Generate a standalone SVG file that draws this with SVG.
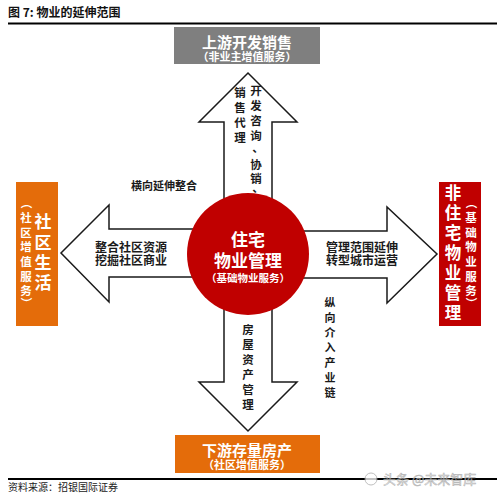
<svg xmlns="http://www.w3.org/2000/svg" width="500" height="497" viewBox="0 0 500 497">
<style>
text{font-family:"Noto Sans CJK SC","Noto Sans",sans-serif;}
.t{font-size:12px;fill:#1a1a1a;font-weight:bold;}
.w{fill:#fff;font-weight:bold;}
.arrow{fill:#fff;stroke:#1a1a1a;stroke-width:1.5;stroke-linejoin:miter;}
.rule{stroke:#000;stroke-width:2;}
</style>
<rect width="500" height="497" fill="#fff"/>
<text x="8" y="17" style="font-size:12px;font-weight:bold;fill:#111">图 7: 物业的延伸范围</text>
<line class="rule" x1="8" y1="23.5" x2="497" y2="23.5"/>

<g id="connectors">
<path class="arrow" d="M224,200 L224,122 L199,122 L248,73 L297,122 L272,122 L272,200 Z"/>
<path class="arrow" d="M224,300 L224,382 L199,382 L248,431 L297,382 L272,382 L272,300 Z"/>
<path class="arrow" d="M200,229 L109,229 L109,205 L61,253 L109,302 L109,277 L200,277 Z"/>
<path class="arrow" d="M300,231 L387,231 L387,207 L437,254 L387,303 L387,278 L300,278 Z"/>
</g>

<g id="up-labels" class="t" style="font-size:11.5px">
<text x="240" y="97" text-anchor="middle">销</text>
<text x="240" y="112" text-anchor="middle">售</text>
<text x="240" y="127" text-anchor="middle">代</text>
<text x="240" y="142" text-anchor="middle">理</text>
<text x="256" y="95" text-anchor="middle">开</text>
<text x="256" y="110" text-anchor="middle">发</text>
<text x="256" y="125" text-anchor="middle">咨</text>
<text x="256" y="140" text-anchor="middle">询</text>
<text x="258" y="152" text-anchor="middle">、</text>
<text x="256" y="169" text-anchor="middle">协</text>
<text x="256" y="183" text-anchor="middle">销</text>
<text x="258" y="192" text-anchor="middle">、</text>
</g>

<g id="center">
<circle cx="248" cy="254" r="61" fill="#c00000"/>
<text class="w" x="248" y="246" text-anchor="middle" style="font-size:17px">住宅</text>
<text class="w" x="248" y="267" text-anchor="middle" style="font-size:17px">物业管理</text>
<text class="w" x="248" y="282" text-anchor="middle" style="font-size:10.5px">（基础物业服务）</text>
</g>

<g id="top-box">
<rect x="174" y="27" width="146" height="37" fill="#7f7f7f"/>
<text class="w" x="247" y="48" text-anchor="middle" style="font-size:15px">上游开发销售</text>
<text class="w" x="247" y="61" text-anchor="middle" style="font-size:11px">（非业主增值服务）</text>
</g>

<g id="bottom-box">
<rect x="175" y="435" width="145" height="38" fill="#e46c0a"/>
<text class="w" x="247" y="456" text-anchor="middle" style="font-size:15px">下游存量房产</text>
<text class="w" x="247" y="469" text-anchor="middle" style="font-size:11px">（社区增值服务）</text>
</g>

<g id="left-box">
<rect x="16" y="182" width="42" height="144" fill="#e46c0a"/>
<g class="w" style="font-size:17px" text-anchor="middle">
<text x="43" y="228">社</text>
<text x="43" y="249">区</text>
<text x="43" y="269">生</text>
<text x="43" y="289">活</text>
</g>
<g class="w" style="font-size:11.5px" text-anchor="middle">
<text x="26" y="207" transform="rotate(90 26 203)">（</text>
<text x="26" y="222">社</text>
<text x="26" y="237">区</text>
<text x="26" y="251">增</text>
<text x="26" y="266">值</text>
<text x="26" y="281">服</text>
<text x="26" y="295">务</text>
<text x="26" y="307" transform="rotate(90 26 303)">）</text>
</g>
</g>

<g id="right-box">
<rect x="439" y="182" width="42" height="144" fill="#c00000"/>
<g class="w" style="font-size:16.5px" text-anchor="middle">
<text x="453" y="199">非</text>
<text x="453" y="219">住</text>
<text x="453" y="239">宅</text>
<text x="453" y="259">物</text>
<text x="453" y="279">业</text>
<text x="453" y="299">管</text>
<text x="453" y="319">理</text>
</g>
<g class="w" style="font-size:11.5px" text-anchor="middle">
<text x="471" y="207" transform="rotate(90 471 203)">（</text>
<text x="471" y="222">基</text>
<text x="471" y="237">础</text>
<text x="471" y="251">物</text>
<text x="471" y="266">业</text>
<text x="471" y="281">服</text>
<text x="471" y="295">务</text>
<text x="471" y="307" transform="rotate(90 471 303)">）</text>
</g>
</g>

<g id="labels" class="t">
<text x="164" y="190" text-anchor="middle" style="font-size:11px">横向延伸整合</text>
<text x="131" y="252" text-anchor="middle">整合社区资源</text>
<text x="131" y="265" text-anchor="middle">挖掘社区商业</text>
<text x="362" y="252" text-anchor="middle">管理范围延伸</text>
<text x="362" y="265" text-anchor="middle">转型城市运营</text>
<g text-anchor="middle" style="font-size:11px">
<text x="330" y="307">纵</text>
<text x="330" y="322">向</text>
<text x="330" y="337">介</text>
<text x="330" y="352">入</text>
<text x="330" y="367">产</text>
<text x="330" y="382">业</text>
<text x="330" y="397">链</text>
</g>
<g text-anchor="middle" style="font-size:11.5px">
<text x="248" y="334">房</text>
<text x="248" y="349">屋</text>
<text x="248" y="364">资</text>
<text x="248" y="379">产</text>
<text x="248" y="394">管</text>
<text x="248" y="409">理</text>
</g>
</g>

<line class="rule" x1="8" y1="479" x2="497" y2="479"/>
<text x="8" y="491" style="font-size:10px;fill:#222">资料来源：招银国际证券</text>
<g id="watermark" opacity="0.75">
<circle cx="371" cy="479" r="6" fill="#fff" stroke="#aaa" stroke-width="1"/>
<text x="383" y="484" style="font-size:13px;fill:#ddd;stroke:#999;stroke-width:0.5">头条 @未来智库</text>
</g>
</svg>
